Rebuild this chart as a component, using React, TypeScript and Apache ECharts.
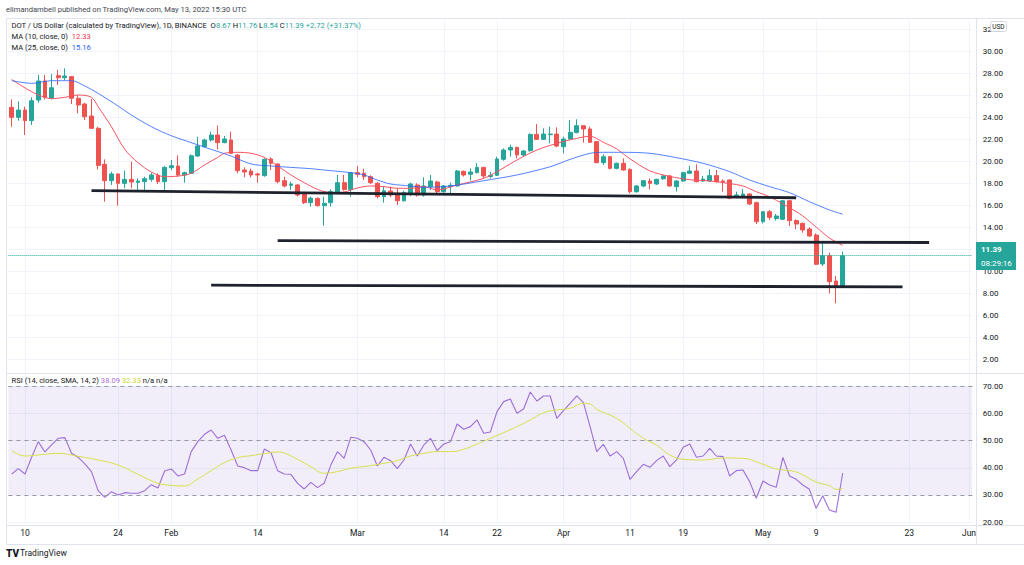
import React, { useEffect, useRef } from 'react';
import * as echarts from 'echarts';

// ---------- categories (one per day, Jan 8 .. Jun 1 2022) ----------
const START = Date.UTC(2022, 0, 8);
const DAY = 86400000;
const NCAT = 145;
const categories: string[] = [];
for (let i = 0; i < NCAT; i++) categories.push(new Date(START + i * DAY).toISOString().slice(0, 10));

const tickDates = ['2022-01-10', '2022-01-24', '2022-02-01', '2022-02-14', '2022-03-01', '2022-03-14', '2022-03-22', '2022-04-01', '2022-04-11', '2022-04-19', '2022-05-01', '2022-05-09', '2022-05-23', '2022-06-01'];
const tickLabels = ['10', '24', 'Feb', '14', 'Mar', '14', '22', 'Apr', '11', '19', 'May', '9', '23', 'Jun'];

// ---------- OHLC (Jan 8 .. May 13) ----------
const opens = [24.88, 23.97, 24.63, 23.67, 25.54, 27.27, 25.70, 27.76, 27.57, 27.67, 25.70, 25.18, 24.09, 22.97, 19.70, 18.21, 18.82, 17.97, 18.33, 18.06, 18.12, 18.33, 18.70, 18.12, 19.39, 19.54, 18.73, 18.88, 20.45, 21.30, 21.91, 22.36, 21.67, 21.91, 20.54, 19.18, 19.09, 18.82, 18.67, 20.18, 19.73, 18.21, 17.79, 17.82, 16.97, 16.21, 16.60, 15.94, 16.21, 17.18, 18.03, 17.42, 18.94, 18.88, 18.57, 17.97, 16.76, 17.27, 17.00, 16.39, 17.00, 17.82, 16.91, 17.67, 18.09, 17.21, 17.67, 17.73, 19.06, 18.79, 18.94, 19.42, 18.58, 18.70, 20.15, 21.00, 21.24, 20.55, 20.94, 22.42, 21.97, 22.39, 22.45, 21.30, 22.00, 22.58, 23.21, 22.91, 21.76, 19.85, 20.39, 19.33, 19.79, 19.24, 17.21, 17.73, 18.18, 17.91, 18.39, 18.64, 17.67, 18.18, 18.88, 19.09, 18.18, 18.18, 18.67, 18.18, 18.27, 16.70, 16.82, 17.00, 16.21, 14.49, 15.39, 14.76, 14.70, 16.39, 14.58, 14.33, 13.82, 13.27, 10.64, 11.39, 9.09, 8.67];
const closes = [23.97, 24.63, 23.67, 25.48, 27.27, 25.79, 26.66, 27.57, 27.73, 25.70, 25.09, 24.03, 22.97, 19.60, 18.21, 18.82, 17.97, 18.33, 18.09, 18.18, 18.39, 18.73, 18.12, 19.42, 19.57, 18.73, 18.94, 20.48, 21.36, 21.91, 22.36, 21.67, 22.00, 20.70, 19.12, 19.00, 18.73, 18.73, 20.15, 19.79, 18.12, 17.73, 17.91, 16.91, 16.21, 16.63, 15.94, 16.15, 17.21, 18.03, 17.42, 18.94, 18.79, 18.57, 18.03, 16.76, 17.30, 16.91, 16.39, 17.12, 17.91, 16.91, 17.73, 18.18, 17.21, 17.73, 17.79, 19.09, 18.73, 19.00, 19.42, 18.64, 18.70, 20.18, 21.00, 21.24, 20.55, 20.91, 22.42, 21.97, 22.45, 22.45, 21.36, 22.00, 22.61, 23.21, 22.91, 21.70, 19.85, 20.39, 19.33, 19.79, 19.18, 17.21, 17.73, 18.21, 17.97, 18.33, 18.64, 17.73, 18.18, 18.94, 19.09, 18.12, 18.36, 18.67, 18.12, 18.09, 16.61, 16.91, 17.00, 16.09, 14.49, 15.39, 14.88, 15.00, 16.39, 14.58, 14.27, 13.73, 13.18, 10.61, 11.39, 9.03, 8.67, 11.39];
const highs = [25.60, 25.42, 24.94, 25.79, 27.82, 27.82, 27.91, 28.27, 28.42, 27.73, 26.00, 25.30, 25.63, 23.12, 20.15, 19.03, 18.88, 19.12, 19.94, 18.42, 18.57, 18.94, 18.88, 19.54, 20.09, 20.51, 19.03, 20.60, 22.21, 22.03, 22.67, 23.21, 22.27, 22.67, 20.64, 19.42, 19.30, 18.94, 20.24, 20.33, 19.79, 18.57, 18.12, 17.91, 17.06, 16.76, 16.70, 16.76, 17.42, 18.73, 18.73, 19.00, 19.54, 19.30, 18.70, 18.09, 17.73, 17.67, 17.51, 17.30, 18.03, 17.97, 18.51, 18.73, 18.21, 17.82, 18.03, 19.18, 19.12, 19.33, 19.79, 19.48, 19.03, 20.39, 21.15, 21.48, 21.30, 21.00, 22.52, 23.36, 22.97, 23.12, 23.06, 22.21, 23.73, 23.79, 23.27, 23.12, 21.82, 20.60, 20.45, 19.85, 20.24, 19.33, 17.82, 18.27, 18.42, 18.39, 18.73, 18.73, 18.27, 19.03, 19.55, 19.70, 18.64, 19.24, 19.18, 18.33, 18.33, 17.21, 17.45, 17.06, 16.30, 15.45, 15.55, 15.18, 16.45, 16.45, 14.70, 14.39, 13.97, 13.42, 12.52, 11.67, 9.55, 11.76];
const lows = [23.12, 23.67, 22.36, 23.27, 25.30, 25.60, 25.60, 26.91, 27.36, 25.18, 24.33, 23.73, 22.91, 19.24, 16.30, 17.82, 15.94, 17.51, 17.51, 17.21, 17.36, 18.12, 17.91, 17.21, 19.18, 18.57, 18.03, 18.82, 20.39, 21.24, 21.76, 21.06, 21.61, 20.64, 18.88, 18.51, 18.51, 18.03, 18.57, 19.18, 17.97, 17.61, 17.36, 16.76, 16.09, 15.85, 15.85, 14.12, 15.85, 17.06, 17.30, 16.76, 18.51, 18.27, 17.91, 16.60, 16.21, 16.70, 16.00, 16.30, 16.82, 16.76, 16.76, 17.36, 17.06, 17.12, 17.06, 17.67, 18.58, 18.21, 18.88, 18.42, 18.42, 18.64, 20.03, 20.39, 20.24, 20.39, 20.85, 21.91, 21.91, 21.61, 21.24, 20.70, 21.97, 22.52, 21.67, 21.67, 19.79, 19.64, 19.24, 19.24, 19.12, 17.06, 17.12, 17.61, 17.42, 17.82, 18.27, 17.67, 17.21, 18.12, 18.82, 18.06, 18.09, 18.09, 18.03, 17.21, 16.52, 16.61, 16.76, 16.00, 14.27, 14.33, 14.64, 14.58, 14.64, 14.09, 13.79, 13.48, 13.12, 10.55, 10.45, 7.97, 7.06, 8.54];

// ---------- moving averages: [dayIndex, value] ----------
const ma10Points: [number, number][] = [[0, 27.42], [3, 26.30], [6, 25.67], [8, 25.79], [10, 26.0], [12, 25.79], [13, 24.94], [15, 23.12], [17, 21.06], [19, 19.85], [21, 19.0], [23, 18.57], [25, 18.63], [27, 18.88], [29, 19.64], [31, 20.33], [32, 20.70], [34, 20.79], [36, 20.70], [38, 20.33], [40, 19.55], [42, 18.73], [44, 18.03], [46, 17.42], [48, 17.12], [50, 17.18], [52, 17.55], [54, 17.73], [56, 17.67], [58, 17.52], [60, 17.52], [62, 17.67], [64, 17.36], [67, 17.82], [71, 18.42], [73, 19.03], [76, 20.09], [79, 21.0], [82, 21.6], [85, 22.06], [87, 22.25], [89, 21.7], [91, 21.1], [93, 20.2], [96, 19.1], [99, 18.6], [102, 18.3], [105, 18.18], [108, 17.95], [110, 17.73], [112, 17.21], [114, 16.75], [116, 16.1], [118, 15.4], [119, 15.0], [121, 14.0], [123, 13.0], [125, 12.33]];
const ma25Points: [number, number][] = [[0, 27.30], [3, 27.06], [6, 27.30], [9, 27.30], [11, 26.82], [13, 26.15], [16, 25.0], [18, 24.18], [21, 23.12], [24, 22.30], [27, 21.67], [30, 21.06], [33, 20.45], [36, 19.73], [39, 19.55], [42, 19.42], [45, 19.30], [48, 19.12], [51, 18.94], [53, 18.73], [55, 18.27], [57, 17.91], [60, 17.73], [62, 17.61], [66, 17.73], [71, 18.21], [76, 18.73], [81, 19.48], [84, 20.15], [87, 20.70], [89, 20.79], [92, 20.79], [96, 20.70], [100, 20.3], [104, 19.79], [108, 19.03], [111, 18.27], [114, 17.67], [117, 17.12], [120, 16.30], [123, 15.55], [125, 15.16]];

// ---------- RSI (one per day) and its SMA ----------
const rsi = [37.72, 39.69, 37.72, 43.85, 49.61, 45.81, 48.39, 50.84, 51.08, 45.32, 43.85, 41.40, 38.58, 31.60, 29.15, 31.23, 30.0, 30.86, 30.62, 30.62, 31.60, 33.80, 32.58, 38.83, 39.56, 36.99, 37.72, 45.94, 49.61, 52.31, 53.90, 50.84, 51.94, 46.55, 40.67, 40.05, 38.95, 38.95, 46.92, 45.57, 38.95, 37.72, 37.60, 34.29, 32.21, 34.66, 32.70, 34.29, 41.0, 45.94, 43.49, 51.20, 50.84, 49.61, 46.55, 40.67, 43.85, 42.63, 39.69, 42.87, 48.75, 44.34, 48.39, 50.84, 46.30, 48.75, 49.61, 56.11, 54.15, 55.13, 57.58, 52.68, 53.17, 60.64, 64.32, 65.30, 60.03, 61.62, 67.87, 64.56, 66.40, 66.40, 58.19, 61.01, 63.71, 66.40, 63.95, 55.13, 45.94, 48.63, 44.34, 45.94, 43.49, 35.76, 38.58, 41.28, 40.18, 42.63, 44.34, 40.42, 42.87, 47.53, 48.75, 43.85, 44.34, 47.16, 44.34, 44.10, 36.99, 38.95, 39.20, 34.91, 28.78, 35.15, 33.68, 32.82, 43.85, 36.99, 35.76, 33.68, 32.09, 25.10, 29.76, 24.49, 23.63, 38.09];
const rsiMaPoints: [number, number][] = [[0, 46.30], [2, 44.34], [4, 44.71], [7, 45.32], [10, 44.22], [13, 42.87], [16, 41.03], [19, 37.60], [22, 34.29], [24, 33.56], [26, 33.31], [28, 35.89], [30, 38.95], [32, 41.89], [34, 43.73], [36, 44.47], [38, 45.20], [40, 45.81], [41, 45.45], [43, 43.12], [45, 40.42], [47, 38.0], [49, 38.6], [51, 39.81], [54, 40.79], [56, 41.65], [58, 42.63], [60, 44.34], [62, 45.32], [64, 45.94], [66, 45.94], [68, 46.79], [70, 48.75], [72, 50.84], [74, 52.92], [76, 55.13], [78, 57.58], [80, 60.27], [82, 61.25], [84, 61.87], [86, 63.71], [87, 63.46], [88, 61.50], [91, 58.19], [93, 54.52], [95, 50.84], [97, 48.39], [99, 44.71], [101, 43.12], [104, 42.87], [107, 43.6], [110, 43.49], [113, 41.28], [115, 39.56], [118, 38.46], [121, 34.78], [123, 33.44], [124, 32.09], [125, 32.33]];

// ---------- drawn support lines: [startIndex, startPrice, endIndex, endPrice] ----------
const supportLines: [number, number, number, number][] = [[12, 17.30, 118, 16.66], [40, 12.76, 138, 12.59], [30, 8.71, 134, 8.56]];
const lastPrice = 11.39;

const UP = '#26a69a';
const DOWN = '#ef5350';
const FONT = 'Roboto, "Noto Sans", sans-serif';
const HF = 7.6;
const GRID_L = 8.38;
const GRID_W = 963.96;
const FRAME = '#e0e3eb';

const labelMap: Record<string, string> = {};
tickDates.forEach((d, i) => { labelMap[d] = tickLabels[i]; });
const isTick = (_i: number, v: string) => labelMap[v] !== undefined;

function buildOption(): any {
  const candleData = opens.map((o, i) => [o, closes[i], lows[i], highs[i]]);
  const supportMarks = supportLines.map(([a, pa, b, pb]) => [
    { coord: [categories[a], pa], lineStyle: { color: '#1e222d', width: 2.8, type: 'solid' } },
    { coord: [categories[b], pb] },
  ]);
  const txt = (x: number, y: number, text: string, extra: any = {}) => ({
    type: 'text', x, y, z: 100, silent: true,
    style: { text, fontSize: HF, fontFamily: FONT, fill: '#131722', verticalAlign: 'middle', align: 'left', ...extra },
  });
  const rs = (fill: string) => ({ fill, fontSize: HF, fontFamily: FONT });
  const hline = (x1: number, x2: number, y: number) => ({ type: 'line', z: 50, silent: true, shape: { x1, y1: y, x2, y2: y }, style: { stroke: FRAME, lineWidth: 1 } });
  const vline = (x: number, y1: number, y2: number) => ({ type: 'line', z: 50, silent: true, shape: { x1: x, y1, x2: x, y2 }, style: { stroke: FRAME, lineWidth: 1 } });

  const xBase = {
    type: 'category', data: categories, boundaryGap: true,
    axisLine: { show: false }, axisTick: { show: false },
    splitLine: { show: true, interval: isTick, alignWithLabel: true, lineStyle: { color: '#f0f3fa', width: 1 } },
  };
  const yLabel = { fontSize: 8, color: '#131722', fontFamily: FONT, margin: 10.5 };

  return {
    animation: false,
    backgroundColor: '#ffffff',
    grid: [
      { left: GRID_L, top: 20.2, width: GRID_W, height: 360.8 },
      { left: GRID_L, top: 375.3, width: GRID_W, height: 146.9 },
    ],
    xAxis: [
      { ...xBase, gridIndex: 0, axisLabel: { show: false } },
      { ...xBase, gridIndex: 1, axisLabel: { show: true, interval: isTick, formatter: (v: string) => labelMap[v] || '', fontSize: 8.5, color: '#131722', fontFamily: FONT, margin: 6 } },
    ],
    yAxis: [
      { type: 'value', gridIndex: 0, position: 'right', min: 0, max: 32.8, interval: 2,
        axisLine: { show: false }, axisTick: { show: false },
        axisLabel: { ...yLabel, showMinLabel: false, showMaxLabel: false, formatter: (v: number) => (v >= 32 ? String(v) : v.toFixed(2)) },
        splitLine: { show: true, showMinLine: false, showMaxLine: false, lineStyle: { color: '#f0f3fa' } } },
      { type: 'value', gridIndex: 1, position: 'right', min: 20, max: 74, interval: 10,
        axisLine: { show: false }, axisTick: { show: false },
        axisLabel: { ...yLabel, showMaxLabel: false, formatter: (v: number) => v.toFixed(2) },
        splitLine: { show: true, showMaxLine: false, lineStyle: { color: '#f0f3fa' } } },
    ],
    series: [
      {
        type: 'candlestick', xAxisIndex: 0, yAxisIndex: 0, data: candleData, barWidth: 4.3,
        itemStyle: { color: UP, color0: DOWN, borderColor: UP, borderColor0: DOWN, borderWidth: 1 },
        markLine: {
          silent: true, symbol: ['none', 'none'], label: { show: false },
          data: [
            ...supportMarks,
            { yAxis: lastPrice, lineStyle: { color: UP, type: 'dotted', width: 1 } },
          ],
        },
      },
      { type: 'line', xAxisIndex: 0, yAxisIndex: 0, data: ma10Points, symbol: 'none', smooth: 0.3, lineStyle: { color: '#f7525f', width: 1 } },
      { type: 'line', xAxisIndex: 0, yAxisIndex: 0, data: ma25Points, symbol: 'none', smooth: 0.3, lineStyle: { color: '#2962ff', width: 1, opacity: 0.8 } },
      {
        type: 'line', xAxisIndex: 1, yAxisIndex: 1, data: rsi, symbol: 'none', lineStyle: { color: '#9c6fd6', width: 1.1 },
        markArea: { silent: true, itemStyle: { color: 'rgba(126,87,194,0.1)' }, data: [[{ yAxis: 30 }, { yAxis: 70 }]] },
        markLine: {
          silent: true, symbol: ['none', 'none'], label: { show: false },
          lineStyle: { color: '#9598a1', type: [4, 4], width: 1 },
          data: [{ yAxis: 70 }, { yAxis: 50 }, { yAxis: 30 }],
        },
      },
      { type: 'line', xAxisIndex: 1, yAxisIndex: 1, data: rsiMaPoints, symbol: 'none', smooth: 0.4, lineStyle: { color: '#d6e04a', width: 1 } },
    ],
    graphic: [
      hline(6.5, 1024, 18.5),
      vline(6.5, 18.5, 544.5),
      vline(976.5, 18.5, 544.5),
      hline(6.5, 1024, 373.5),
      hline(6.5, 1024, 525.5),
      hline(6.5, 1024, 544.5),
      txt(6, 9.5, 'elimandambell published on TradingView.com, May 13, 2022 15:30 UTC', { fill: '#434651' }),
      txt(11.5, 25, 'DOT / US Dollar (calculated by TradingView), 1D, BINANCE  O{g|8.67} H{g|11.76} L{g|8.54} C{g|11.39} {g|+2.72 (+31.37%)}', {
        rich: { g: rs(UP) },
      }),
      txt(11.5, 36, 'MA (10, close, 0)  {r|12.33}', { rich: { r: rs('#f23645') } }),
      txt(11.5, 47, 'MA (25, close, 0)  {b|15.16}', { rich: { b: rs('#2962ff') } }),
      txt(11.5, 380, 'RSI (14, close, SMA, 14, 2) {p|38.09} {y|32.33} n/a n/a', {
        rich: { p: rs('#ab6fd6'), y: rs('#cdd63a') },
      }),
      // USD badge
      { type: 'rect', z: 100, silent: true, shape: { x: 990.5, y: 21.5, width: 16, height: 10, r: 2 }, style: { fill: '#ffffff', stroke: '#d1d4dc', lineWidth: 1 } },
      txt(992.2, 26.8, 'USD', { fontSize: 6.5 }),
      // last price tag
      { type: 'rect', z: 100, silent: true, shape: { x: 976, y: 242, width: 40, height: 28 }, style: { fill: UP } },
      txt(981, 249.5, '11.39', { fill: '#ffffff', fontSize: 8, fontWeight: 'bold' }),
      txt(981, 263, '08:29:16', { fill: '#ffffff', fontSize: 8 }),
      // TradingView logo
      txt(6, 553, 'TV', { fontSize: 10, fontWeight: 900, fill: '#131722' }),
      txt(20, 553, 'TradingView', { fontSize: 8.5, fill: '#131722' }),
    ],
  };
}

export default function App() {
  const ref = useRef<HTMLDivElement>(null);
  useEffect(() => {
    if (!ref.current) return;
    const chart = echarts.init(ref.current, undefined, { renderer: 'svg' });
    chart.setOption(buildOption());
    return () => chart.dispose();
  }, []);
  return <div ref={ref} style={{ position: 'fixed', left: 0, top: 0, width: 1024, height: 565, background: '#fff' }} />;
}
